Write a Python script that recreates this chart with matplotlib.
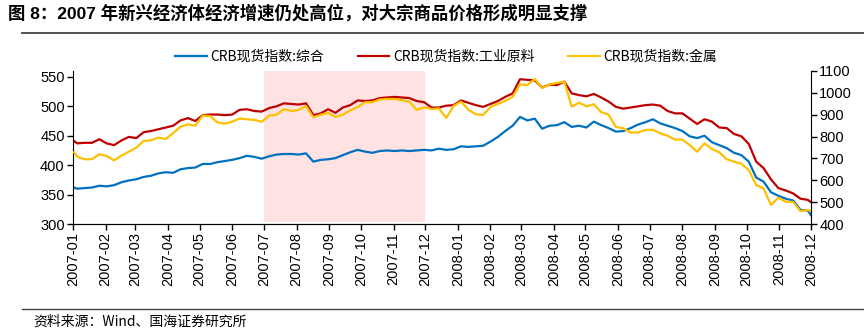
import numpy as np
import pandas as pd
import matplotlib
matplotlib.use("Agg")
import matplotlib.pyplot as plt
import matplotlib.dates as mdates

plt.rcParams['font.family'] = ['Liberation Sans', 'Noto Sans CJK SC', 'DejaVu Sans']

# weekly observations, Jan 2007 - Dec 2008
dates = (pd.DatetimeIndex(["2007-01-02"])
         .append(pd.date_range("2007-01-05", periods=100, freq="7D"))
         .append(pd.DatetimeIndex(["2008-12-01"])))

crb_total = [362,
    360, 361, 362, 365, 364, 366, 371, 374, 376, 380,
    382, 386, 388, 387, 393, 395, 396, 402, 402, 405,
    407, 409, 412, 416, 414, 411, 415, 418, 419, 419,
    418, 420, 406, 409, 410, 412, 417, 422, 426, 423,
    421, 424, 425, 424, 425, 424, 425, 426, 425, 428,
    426, 427, 432, 431, 432, 433, 440, 448, 458, 467,
    482, 476, 479, 462, 467, 468, 473, 465, 467, 464,
    474, 468, 463, 457, 458, 463, 469, 473, 478, 471,
    467, 463, 458, 449, 446, 450, 439, 434, 429, 421,
    417, 406, 379, 372, 354, 348, 343, 340, 324, 323,
    315]

crb_raw_ind = [441,
    437, 438, 438, 444, 437, 434, 442, 448, 446, 456,
    458, 461, 464, 467, 476, 480, 475, 485, 486, 486,
    485, 486, 494, 495, 492, 491, 497, 500, 505, 504,
    503, 505, 485, 488, 495, 489, 498, 502, 510, 509,
    510, 514, 515, 516, 515, 514, 509, 507, 498, 498,
    501, 502, 510, 506, 502, 499, 504, 509, 516, 522,
    546, 545, 544, 532, 537, 536, 542, 522, 519, 517,
    521, 515, 508, 499, 496, 498, 500, 502, 503, 501,
    492, 488, 488, 479, 470, 478, 474, 464, 463, 453,
    449, 436, 406, 395, 376, 361, 357, 352, 343, 341,
    337]

crb_metals = [728,
    708, 696, 697, 719, 711, 691, 713, 731, 749, 780,
    783, 795, 789, 816, 845, 856, 850, 896, 894, 865,
    859, 868, 883, 879, 876, 868, 896, 900, 925, 917,
    922, 940, 888, 900, 908, 890, 900, 920, 935, 957,
    957, 970, 972, 972, 966, 960, 922, 934, 926, 929,
    885, 940, 960, 923, 902, 899, 935, 950, 963, 982,
    1039, 1036, 1063, 1022, 1039, 1045, 1051, 937, 955, 938,
    948, 912, 900, 844, 838, 818, 819, 830, 831, 815,
    804, 786, 786, 761, 731, 769, 743, 728, 697, 685,
    675, 647, 578, 563, 487, 520, 502, 501, 459, 464,
    458]

labels = ["CRB现货指数:综合", "CRB现货指数:工业原料", "CRB现货指数:金属"]
colors = ["#0070C0", "#C00000", "#FFC000"]
shade_start, shade_end = "2007-07-01", "2007-12-01"

fig = plt.figure(figsize=(8.64, 3.30), dpi=100)
ax = fig.add_axes([73 / 864, 1 - 224 / 330, 738 / 864, 153 / 330])
ax2 = ax.twinx()

# highlighted period sits underneath all three lines
ax.axvspan(pd.Timestamp(shade_start), pd.Timestamp(shade_end), ymin=0.015, ymax=1,
           color="#FFE3E3", lw=0, zorder=0)

l1, = ax.plot(dates, crb_total, color=colors[0], lw=1.6, label=labels[0])
l2, = ax.plot(dates, crb_raw_ind, color=colors[1], lw=1.6, label=labels[1])
l3, = ax2.plot(dates, crb_metals, color=colors[2], lw=1.6, label=labels[2])

ax.set_ylim(300, 560)
ax.set_yticks(np.arange(300, 551, 50))
ax2.set_ylim(400, 1100)
ax2.set_yticks(np.arange(400, 1101, 100))

ax.set_xlim(pd.Timestamp("2007-01-01"), pd.Timestamp("2008-12-01"))
ax.xaxis.set_major_locator(mdates.MonthLocator())
ax.xaxis.set_major_formatter(mdates.DateFormatter("%Y-%m"))

for a in (ax, ax2):
    a.spines["top"].set_visible(False)
    a.tick_params(labelsize=10.5, length=4, width=1, direction="out", pad=2)
ax.spines["right"].set_visible(False)
ax2.spines["left"].set_visible(False)
ax.tick_params(axis="x", labelrotation=90, labelsize=10.5)

fig.legend(handles=[l1, l2, l3], loc="center", bbox_to_anchor=(446 / 864, 1 - 57 / 330),
           ncol=3, frameon=False, handlelength=2.3, handletextpad=0.25,
           columnspacing=2.4, prop={"family": ["Noto Sans CJK SC"], "size": 10})

fig.text(8 / 864, 1 - 13 / 330, "图 8：2007 年新兴经济体经济增速仍处高位，对大宗商品价格形成明显支撑",
         fontsize=12.5, fontweight="bold", va="center", ha="left")
fig.add_artist(plt.Line2D([22 / 864, 1], [1 - 33 / 330] * 2, color="#444444", lw=1.3))
fig.add_artist(plt.Line2D([22 / 864, 1], [1 - 309 / 330] * 2, color="#444444", lw=1.0))
fig.text(33 / 864, 1 - 322 / 330, "资料来源：Wind、国海证券研究所",
         fontsize=10, va="center", ha="left", family=["Noto Sans CJK SC"])

fig.savefig("out.png", dpi=100)
